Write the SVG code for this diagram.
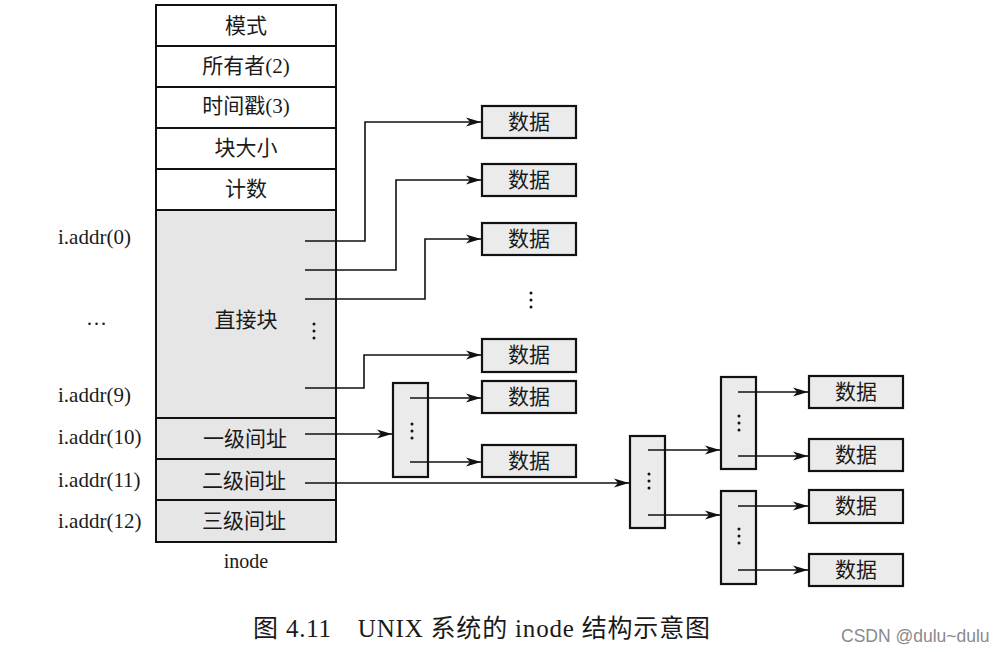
<svg xmlns="http://www.w3.org/2000/svg" width="995" height="652" viewBox="0 0 995 652">
<defs>
<marker id="arr" markerUnits="userSpaceOnUse" markerWidth="16" markerHeight="10" refX="15" refY="5" orient="auto">
<path d="M0,0.5 L15,5 L0,9.5 L4,5 Z" fill="#111"/>
</marker>
<style>
.box{fill:#fff;stroke:#111;stroke-width:2}
.g{fill:#e6e6e6;stroke:#111;stroke-width:2}
.d{fill:#ebebeb;stroke:#111;stroke-width:2.2}
.t{font-family:"Liberation Serif","Noto Sans CJK SC",serif;font-size:21px;fill:#1a1a1a;text-anchor:middle;dominant-baseline:central}
.l{font-family:"Liberation Serif","Noto Sans CJK SC",serif;font-size:21px;fill:#1a1a1a;dominant-baseline:central}
.c{fill:none;stroke:#111;stroke-width:1.6}
.dot{fill:#111}
</style>
</defs>
<rect width="995" height="652" fill="#fff"/>

<g id="inode">
<rect class="box" x="156" y="5" width="180" height="205"/>
<rect class="g" x="156" y="210" width="180" height="332"/>
<line class="c" x1="156" y1="46" x2="336" y2="46" style="stroke-width:2"/>
<line class="c" x1="156" y1="87" x2="336" y2="87" style="stroke-width:2"/>
<line class="c" x1="156" y1="128" x2="336" y2="128" style="stroke-width:2"/>
<line class="c" x1="156" y1="169" x2="336" y2="169" style="stroke-width:2"/>
<line class="c" x1="156" y1="418" x2="336" y2="418" style="stroke-width:2"/>
<line class="c" x1="156" y1="459" x2="336" y2="459" style="stroke-width:2"/>
<line class="c" x1="156" y1="500" x2="336" y2="500" style="stroke-width:2"/>
<text class="t" x="246" y="26">模式</text>
<text class="t" x="246" y="66">所有者(2)</text>
<text class="t" x="246" y="106">时间戳(3)</text>
<text class="t" x="246" y="148">块大小</text>
<text class="t" x="246" y="189">计数</text>
<text class="t" x="246" y="320">直接块</text>
<text class="t" x="245" y="439">一级间址</text>
<text class="t" x="244" y="481">二级间址</text>
<text class="t" x="244" y="521">三级间址</text>
<circle class="dot" cx="314" cy="324" r="1.5"/>
<circle class="dot" cx="314" cy="331" r="1.5"/>
<circle class="dot" cx="314" cy="338" r="1.5"/>
<text class="t" x="246" y="561" style="font-size:20px">inode</text>
</g>

<g id="labels">
<text class="l" x="58" y="237">i.addr(0)</text>
<text class="l" x="86" y="318">…</text>
<text class="l" x="58" y="395">i.addr(9)</text>
<text class="l" x="58" y="437">i.addr(10)</text>
<text class="l" x="58" y="480">i.addr(11)</text>
<text class="l" x="58" y="521">i.addr(12)</text>
</g>

<g id="data1"><rect class="d" x="482" y="106" width="94" height="32"/><text class="t" x="529" y="122">数据</text></g>
<g id="data2"><rect class="d" x="482" y="164" width="94" height="32"/><text class="t" x="529" y="180">数据</text></g>
<g id="data3"><rect class="d" x="482" y="223" width="94" height="32"/><text class="t" x="529" y="239">数据</text></g>
<g id="dots-data">
<circle class="dot" cx="531" cy="293" r="1.5"/>
<circle class="dot" cx="531" cy="300" r="1.5"/>
<circle class="dot" cx="531" cy="307" r="1.5"/>
</g>
<g id="data4"><rect class="d" x="482" y="339" width="94" height="33"/><text class="t" x="529" y="355">数据</text></g>
<g id="data5"><rect class="d" x="482" y="381" width="94" height="32"/><text class="t" x="529" y="397">数据</text></g>
<g id="data6"><rect class="d" x="482" y="445" width="94" height="32"/><text class="t" x="529" y="461">数据</text></g>

<g id="idx1"><rect class="d" x="393" y="383" width="35" height="94"/>
<circle class="dot" cx="412" cy="424" r="1.5"/><circle class="dot" cx="412" cy="431" r="1.5"/><circle class="dot" cx="412" cy="438" r="1.5"/></g>
<g id="idx2"><rect class="d" x="630" y="436" width="35" height="92"/>
<circle class="dot" cx="649" cy="474" r="1.5"/><circle class="dot" cx="649" cy="481" r="1.5"/><circle class="dot" cx="649" cy="488" r="1.5"/></g>
<g id="idx3"><rect class="d" x="721" y="377" width="35" height="92"/>
<circle class="dot" cx="739" cy="416" r="1.5"/><circle class="dot" cx="739" cy="423" r="1.5"/><circle class="dot" cx="739" cy="430" r="1.5"/></g>
<g id="idx4"><rect class="d" x="721" y="491" width="35" height="93"/>
<circle class="dot" cx="739" cy="529" r="1.5"/><circle class="dot" cx="739" cy="536" r="1.5"/><circle class="dot" cx="739" cy="543" r="1.5"/></g>

<g id="data7"><rect class="d" x="809" y="376" width="94" height="32"/><text class="t" x="856" y="392">数据</text></g>
<g id="data8"><rect class="d" x="809" y="439" width="94" height="32"/><text class="t" x="856" y="455">数据</text></g>
<g id="data9"><rect class="d" x="809" y="490" width="94" height="33"/><text class="t" x="856" y="506">数据</text></g>
<g id="data10"><rect class="d" x="809" y="554" width="94" height="32"/><text class="t" x="856" y="570">数据</text></g>

<g id="connectors">
<path class="c" d="M305,241 H365 V122 H481" marker-end="url(#arr)"/>
<path class="c" d="M305,270 H396 V180 H481" marker-end="url(#arr)"/>
<path class="c" d="M305,299 H425 V239 H481" marker-end="url(#arr)"/>
<path class="c" d="M305,388 H364 V355 H481" marker-end="url(#arr)"/>
<path class="c" d="M305,434 H392" marker-end="url(#arr)"/>
<path class="c" d="M410,398 H481" marker-end="url(#arr)"/>
<path class="c" d="M410,462 H481" marker-end="url(#arr)"/>
<path class="c" d="M305,483 H629" marker-end="url(#arr)"/>
<path class="c" d="M648,450 H720" marker-end="url(#arr)"/>
<path class="c" d="M648,515 H720" marker-end="url(#arr)"/>
<path class="c" d="M738,392 H808" marker-end="url(#arr)"/>
<path class="c" d="M738,456 H808" marker-end="url(#arr)"/>
<path class="c" d="M738,506 H808" marker-end="url(#arr)"/>
<path class="c" d="M738,570 H808" marker-end="url(#arr)"/>
</g>

<g id="caption">
<text x="253" y="637" textLength="457" lengthAdjust="spacing" style="font-family:'Liberation Serif','Noto Sans CJK SC',serif;font-size:25px;fill:#1a1a1a">图 4.11　UNIX 系统的 inode 结构示意图</text>
<text x="841" y="642" style="font-family:'Liberation Sans','Noto Sans',sans-serif;font-size:17.5px;fill:#8a8a8a">CSDN @dulu~dulu</text>
</g>
</svg>
